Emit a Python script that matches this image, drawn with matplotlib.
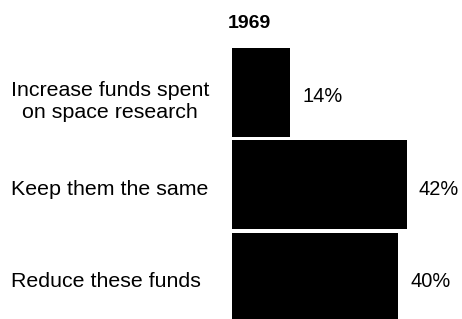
import matplotlib
matplotlib.use("Agg")
import matplotlib.pyplot as plt
from matplotlib.transforms import blended_transform_factory

plt.rcParams['font.family'] = ['Liberation Sans', 'DejaVu Sans']

# --- datos ---
year = "1969"
categories = ["Increase funds spent\non space research",
              "Keep them the same",
              "Reduce these funds"]
values = [14, 42, 40]

W, H = 462, 319
fig = plt.figure(figsize=(W / 100, H / 100), dpi=100)

# eje: 0% empieza en x=232 px, ~4.16 px por punto
px_per_pct = 4.16
x0 = 232
ax = fig.add_axes([x0 / W, 0, 1 - x0 / W, 1])
ax.set_xlim(0, (W - x0) / px_per_pct)
# centros de barra en y = 92.2 + 92.5*i (px desde arriba)
step = 92.5
c0 = 92.2
ax.set_ylim((H - c0) / step, -c0 / step)
ax.axis('off')

pos = list(range(len(values)))
ax.barh(pos, values, height=0.96, color='black')

# etiquetas de categoría a la izquierda
tr = blended_transform_factory(fig.transFigure, ax.transData)
for i, lab in enumerate(categories):
    dy = 0.1 if "\n" in lab else 0.05
    ax.text(11 / W, i + dy, lab, transform=tr, ha='left', va='center',
            multialignment='center', fontsize=15.4, linespacing=1.2)

# porcentajes
for i, v in enumerate(values):
    ax.annotate(f"{v}%", xy=(v, i + 0.05), xytext=(12, 0),
                textcoords='offset pixels', ha='left', va='center',
                fontsize=14.4)

fig.text(249 / W, 1 - 24 / H, year, ha='center', va='center',
         fontsize=14, fontweight='bold')

fig.savefig("out.png", dpi=100)
